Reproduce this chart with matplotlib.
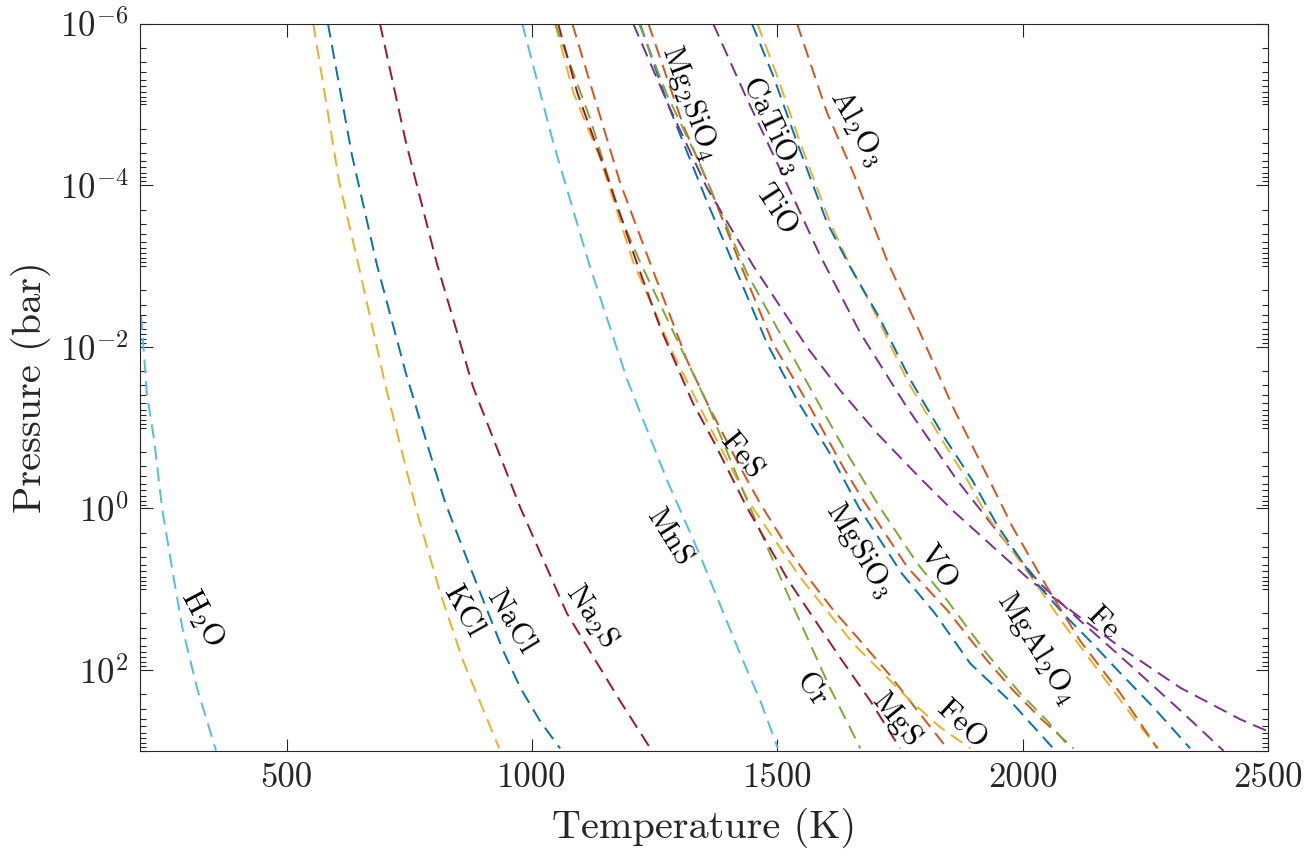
import numpy as np
import matplotlib
matplotlib.use('Agg')
import matplotlib.pyplot as plt
from matplotlib import ticker

# condensation curves: temperature (K) and log10 pressure (bar)
h2o_T = [200, 215, 230, 246, 266, 287, 317, 356]
h2o_logP = [-2.65, -1.42, -0.84, 0.0, 0.73, 1.47, 2.22, 3.0]

kcl_T = [554, 607, 647, 702, 766, 813, 859, 933]
kcl_logP = [-6.0, -4.04, -2.99, -1.50, 0.06, 1.05, 1.88, 2.97]

nacl_T = [584, 633, 684, 743, 790, 823, 874, 941, 976, 1016, 1057]
nacl_logP = [-6.0, -4.37, -3.01, -1.67, -0.72, -0.07, 0.73, 1.76, 2.22, 2.63, 2.97]

na2s_T = [690, 743, 806, 880, 976, 1071, 1179, 1241]
na2s_logP = [-6.0, -4.53, -3.03, -1.50, -0.01, 1.30, 2.38, 2.97]

mns_T = [980, 1043, 1116, 1194, 1275, 1338, 1424, 1465, 1501]
mns_logP = [-6.0, -4.53, -3.03, -1.59, -0.35, 0.52, 1.80, 2.38, 2.97]

fes_T = [1082, 1179, 1241, 1316, 1357, 1424, 1465, 1520, 1567, 1614, 1669, 1730, 1785, 1846]
fes_logP = [-6.0, -4.04, -3.03, -1.83, -1.30, -0.51, -0.06, 0.48, 0.89, 1.26, 1.64, 2.07, 2.50, 2.97]

feo_T = [1047, 1084, 1139, 1206, 1287, 1363, 1444, 1546, 1654, 1764, 1832, 1893]
feo_logP = [-6.0, -5.15, -4.33, -3.05, -1.92, -1.00, -0.06, 0.85, 1.67, 2.34, 2.71, 2.97]

cr_T = [1047, 1118, 1179, 1220, 1296, 1357, 1438, 1520, 1607, 1669]
cr_logP = [-6.0, -4.83, -3.63, -3.05, -2.08, -1.30, -0.10, 1.05, 2.22, 2.97]

mgs_T = [1053, 1092, 1145, 1214, 1261, 1328, 1369, 1438, 1522, 1628, 1689, 1750]
mgs_logP = [-6.0, -5.15, -4.25, -3.03, -2.24, -1.30, -0.84, -0.01, 0.89, 1.85, 2.38, 2.97]

mg2sio4_T = [1220, 1275, 1357, 1410, 1479, 1540, 1607, 1666, 1754, 1821, 1893, 1980, 2062]
mg2sio4_logP = [-6.0, -5.03, -3.79, -3.03, -2.04, -1.34, -0.68, -0.01, 0.81, 1.30, 1.92, 2.42, 2.97]

mgsio3_T = [1237, 1308, 1363, 1424, 1491, 1567, 1634, 1675, 1765, 1846, 1927, 1980, 2035, 2103]
mgsio3_logP = [-6.0, -4.74, -3.96, -3.03, -2.04, -1.25, -0.51, -0.10, 0.73, 1.26, 1.88, 2.25, 2.59, 2.97]

vo_T = [1218, 1275, 1337, 1438, 1505, 1573, 1634, 1709, 1785, 1846, 1927, 1995, 2050, 2097]
vo_logP = [-6.0, -5.12, -4.33, -2.91, -2.17, -1.42, -0.76, -0.01, 0.68, 1.14, 1.80, 2.29, 2.63, 2.97]

fe_T = [1206, 1281, 1357, 1450, 1561, 1628, 1703, 1790, 1858, 2015, 2199, 2321, 2443, 2500]
fe_logP = [-6.0, -4.95, -3.96, -3.01, -1.99, -1.46, -0.93, -0.38, 0.03, 0.89, 1.72, 2.22, 2.61, 2.76]

tio_T = [1369, 1434, 1506, 1587, 1669, 1764, 1866, 1954, 2035, 2117, 2219, 2321, 2409]
tio_logP = [-6.0, -5.12, -4.19, -3.13, -2.17, -1.25, -0.35, 0.33, 0.93, 1.39, 1.94, 2.50, 3.0]

catio3_T = [1459, 1499, 1546, 1607, 1648, 1703, 1764, 1832, 1887, 1927, 2015, 2082, 2131, 2184, 2233, 2276]
catio3_logP = [-6.0, -5.36, -4.53, -3.54, -3.01, -2.37, -1.59, -0.88, -0.35, 0.09, 0.83, 1.42, 1.82, 2.25, 2.65, 2.97]

mgal2o4_T = [1448, 1491, 1540, 1601, 1646, 1707, 1771, 1840, 1897, 1948, 2029, 2082, 2137, 2199, 2266, 2341]
mgal2o4_logP = [-6.0, -5.36, -4.53, -3.54, -3.01, -2.37, -1.59, -0.88, -0.35, 0.21, 0.93, 1.30, 1.64, 2.04, 2.46, 2.97]

al2o3_T = [1540, 1601, 1654, 1724, 1791, 1858, 1927, 1980, 2050, 2117, 2199, 2274]
al2o3_logP = [-6.0, -4.90, -4.16, -3.06, -2.17, -1.25, -0.41, 0.24, 0.98, 1.64, 2.29, 2.97]

# label text, position (T, log10 P) and angle
label_text = [r'$\mathrm{H_2O}$', r'$\mathrm{KCl}$', r'$\mathrm{NaCl}$', r'$\mathrm{Na_2S}$',
              r'$\mathrm{MnS}$', r'$\mathrm{FeS}$', r'$\mathrm{Cr}$', r'$\mathrm{MgS}$',
              r'$\mathrm{FeO}$', r'$\mathrm{Mg_2SiO_4}$', r'$\mathrm{MgSiO_3}$', r'$\mathrm{VO}$',
              r'$\mathrm{MgAl_2O_4}$', r'$\mathrm{Fe}$', r'$\mathrm{TiO}$', r'$\mathrm{CaTiO_3}$',
              r'$\mathrm{Al_2O_3}$']
label_T = [328, 863, 959, 1120, 1281, 1428, 1571, 1742, 1876, 1322, 1669, 1828, 2029, 2164, 1499, 1489, 1662]
label_logP = [1.36, 1.26, 1.39, 1.33, 0.34, -0.67, 2.22, 2.60, 2.66, -5.02, 0.52, 0.71, 1.73, 1.41, -3.72, -4.74, -4.71]
label_rot = [-62, -61, -59, -56, -58, -51, -56, -51, -43, -70, -59, -56, -58, -45, -57, -65, -61]

blue = '#0072BD'
orange = '#D95319'
yellow = '#EDB120'
purple = '#7E2F8E'
green = '#77AC30'
lblue = '#4DBEEE'
dred = '#A2142F'

curves = [
    (h2o_T, h2o_logP, lblue),
    (kcl_T, kcl_logP, yellow),
    (nacl_T, nacl_logP, blue),
    (na2s_T, na2s_logP, dred),
    (mns_T, mns_logP, lblue),
    (fes_T, fes_logP, orange),
    (feo_T, feo_logP, yellow),
    (cr_T, cr_logP, green),
    (mgs_T, mgs_logP, dred),
    (mg2sio4_T, mg2sio4_logP, blue),
    (mgsio3_T, mgsio3_logP, orange),
    (vo_T, vo_logP, green),
    (fe_T, fe_logP, purple),
    (tio_T, tio_logP, purple),
    (catio3_T, catio3_logP, yellow),
    (mgal2o4_T, mgal2o4_logP, blue),
    (al2o3_T, al2o3_logP, orange),
]

plt.rcParams['mathtext.fontset'] = 'cm'
plt.rcParams['font.family'] = 'serif'
plt.rcParams['font.serif'] = ['cmr10']
plt.rcParams['axes.formatter.use_mathtext'] = True

fig = plt.figure(figsize=(13.1, 8.58), dpi=100)
ax = fig.add_axes([0.1065, 0.125, 0.8615, 0.8475])

for T, logP, col in curves:
    ax.plot(T, 10 ** np.array(logP), color=col, lw=1.4, dashes=(7.2, 4.0))

for txt, t, lp, rot in zip(label_text, label_T, label_logP, label_rot):
    ax.text(t, 10 ** lp, txt, rotation=rot, ha='center', va='center', fontsize=22, color='k')

ax.set_xlim(200, 2500)
ax.set_yscale('log')
ax.set_ylim(1e3, 1e-6)

ax.set_xticks([500, 1000, 1500, 2000, 2500])
ax.set_xticklabels(['500', '1000', '1500', '2000', '2500'])
ax.set_yticks([1e-6, 1e-4, 1e-2, 1e0, 1e2])
ax.set_yticklabels([r'$10^{-6}$', r'$10^{-4}$', r'$10^{-2}$', r'$10^{0}$', r'$10^{2}$'])
ax.yaxis.set_minor_locator(ticker.LogLocator(base=10, subs=np.arange(1, 10), numticks=50))
ax.yaxis.set_minor_formatter(ticker.NullFormatter())

ax.tick_params(which='both', direction='in', top=True, right=True, colors='#262626',
               labelsize=25, width=0.8)
ax.tick_params(which='major', length=9, pad=8)
ax.tick_params(which='minor', length=4.5)
for s in ax.spines.values():
    s.set_color('#262626')
    s.set_linewidth(0.8)

ax.set_xlabel('Temperature (K)', fontsize=29, color='#262626', labelpad=10)
ax.set_ylabel('Pressure (bar)', fontsize=29, color='#262626', labelpad=6)

fig.savefig('out.png', dpi=100)
